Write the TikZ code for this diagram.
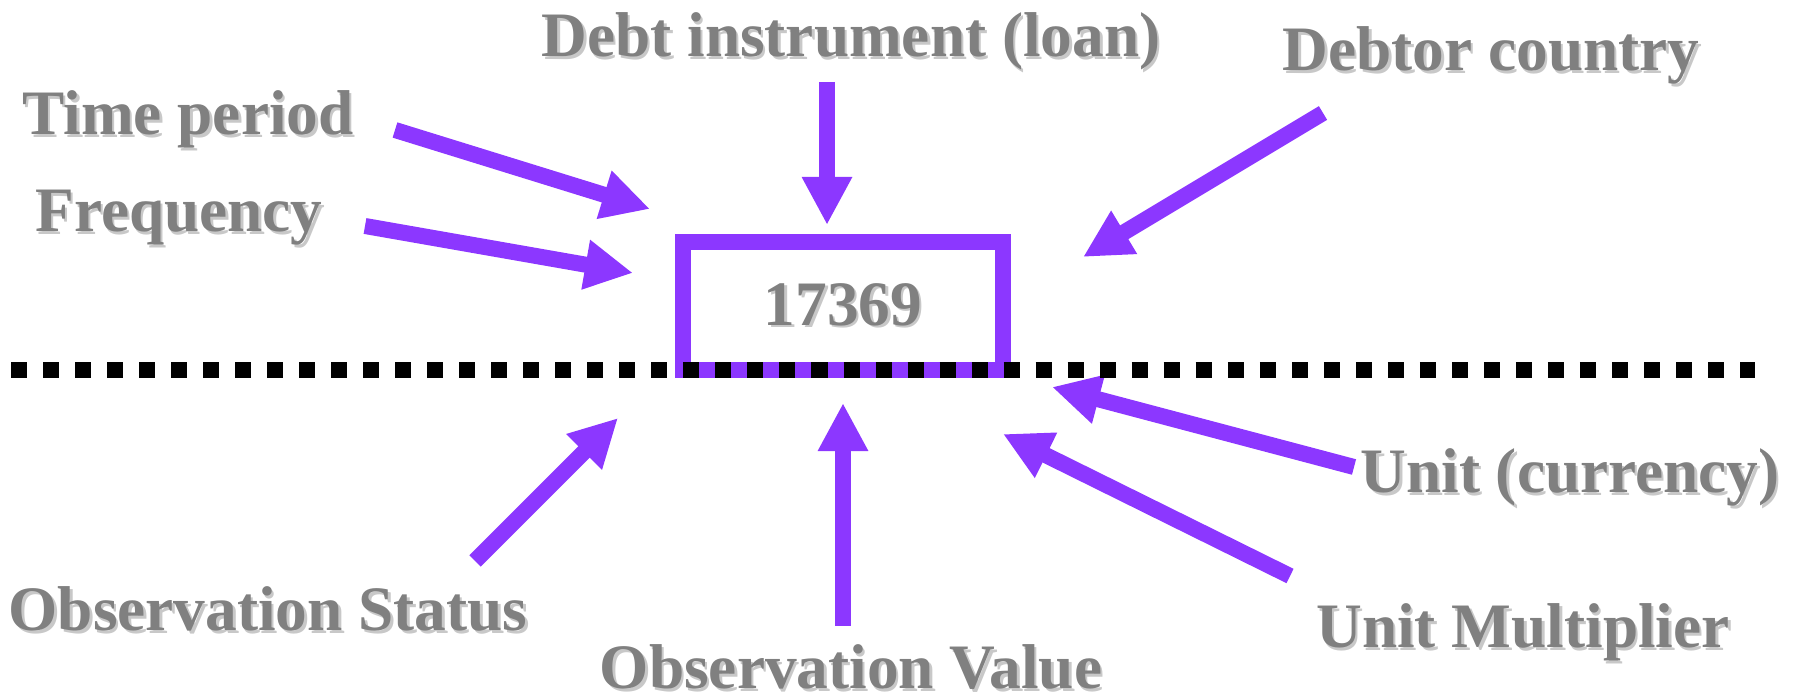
\documentclass[tikz,border=0pt]{standalone}
\usepackage{fontspec}
\setmainfont{Liberation Serif}
\usepackage{xcolor}
\usepackage{tikz}
\usetikzlibrary{arrows.meta, positioning}

\definecolor{arrowviolet}{RGB}{140,55,255}
\definecolor{labelgray}{RGB}{128,128,128}
\definecolor{shadowgray}{RGB}{200,200,200}

\newcommand{\shadowed}[1]{\makebox[0pt][l]{\hspace{0.025cm}\raisebox{-0.025cm}{\color{shadowgray}#1}}#1}

\begin{document}
\begin{tikzpicture}[
        x=0.01cm, y=-0.01cm,
        label/.style={
            text=labelgray,
            font=\fontsize{18}{20}\selectfont\bfseries,
            inner sep=0pt,
            anchor=base
        },
        valuebox/.style={
            rectangle,
            draw=arrowviolet,
            line width=0.16cm,
            minimum width=3.2cm,
            minimum height=1.28cm,
            inner sep=0pt,
            text=labelgray,
            font=\fontsize{18}{20}\selectfont\bfseries
        },
        fatarrow/.style={
            -{Triangle[width=0.47cm, length=0.48cm]},
            line width=0.16cm,
            arrowviolet
        },
        divider/.style={
            line width=0.155cm,
            black,
            dash pattern=on 0.16cm off 0.16cm
        }
    ]
    \useasboundingbox (0,0) rectangle (1798,698);

    % Observation value
    \node[valuebox] (value) at (843,306) {\shadowed{17369}};

    % Dimensions above the line
    \node[label] (instrument) at (851,57) {\shadowed{Debt instrument (loan)}};
    \node[label] (debtor) at (1491,71) {\shadowed{Debtor country}};
    \node[label] (period) at (188,135) {\shadowed{Time period}};
    \node[label] (frequency) at (179,232) {\shadowed{Frequency}};

    % Attributes below the line
    \node[label] (status) at (268,631) {\shadowed{Observation Status}};
    \node[label] (obsvalue) at (851,689) {\shadowed{Observation Value}};
    \node[label] (currency) at (1570,493) {\shadowed{Unit (currency)}};
    \node[label] (multiplier) at (1523,648) {\shadowed{Unit Multiplier}};

    % Arrow ends
    \coordinate (instrument-s) at (827,82);
    \coordinate (instrument-e) at (827,225);
    \coordinate (debtor-s) at (1323,113);
    \coordinate (debtor-e) at (1083,257);
    \coordinate (period-s) at (395,130);
    \coordinate (period-e) at (650,209);
    \coordinate (frequency-s) at (365,226);
    \coordinate (frequency-e) at (633,273);
    \coordinate (status-s) at (475,561);
    \coordinate (status-e) at (618,418);
    \coordinate (obsvalue-s) at (843,626);
    \coordinate (obsvalue-e) at (843,403);
    \coordinate (currency-s) at (1354,467);
    \coordinate (currency-e) at (1052,387);
    \coordinate (multiplier-s) at (1290,576);
    \coordinate (multiplier-e) at (1003,434);
    \coordinate (divider-w) at (11,370);
    \coordinate (divider-e) at (1755,370);

    % Arrows
    \draw[fatarrow] (instrument-s) -- (instrument-e);
    \draw[fatarrow] (debtor-s) -- (debtor-e);
    \draw[fatarrow] (period-s) -- (period-e);
    \draw[fatarrow] (frequency-s) -- (frequency-e);
    \draw[fatarrow] (status-s) -- (status-e);
    \draw[fatarrow] (obsvalue-s) -- (obsvalue-e);
    \draw[fatarrow] (currency-s) -- (currency-e);
    \draw[fatarrow] (multiplier-s) -- (multiplier-e);

    % Dotted line
    \draw[divider] (divider-w) -- (divider-e);

\end{tikzpicture}
\end{document}
